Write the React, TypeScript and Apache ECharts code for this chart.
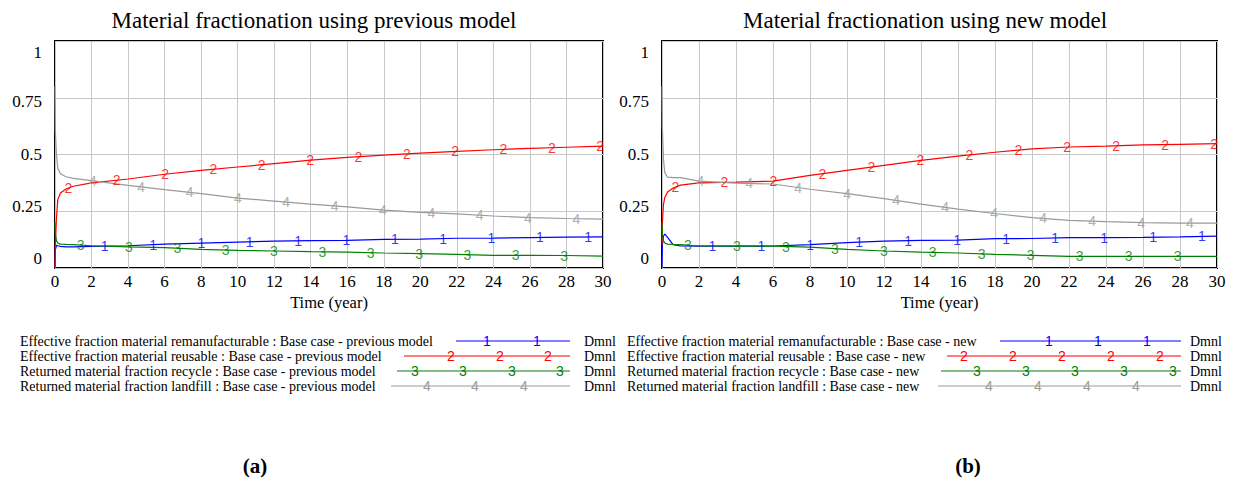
import React, { useEffect, useRef } from "react";
import * as echarts from "echarts";

// ---------- data ----------
const TIME = [0, 0.02, 0.08, 0.15, 0.3, 0.6, 1, 2, 4, 6, 8, 10, 12, 14, 16, 18, 20, 22, 24, 26, 28, 30];

const PREV_REMANUFACTURABLE = [0, 0.08, 0.1, 0.098, 0.095, 0.093, 0.093, 0.095, 0.098, 0.105, 0.11, 0.114, 0.118, 0.121, 0.122, 0.126, 0.127, 0.131, 0.132, 0.134, 0.136, 0.137];
const PREV_REUSABLE = [0, 0.1, 0.22, 0.3, 0.33, 0.348, 0.36, 0.375, 0.392, 0.413, 0.43, 0.445, 0.46, 0.475, 0.487, 0.497, 0.506, 0.514, 0.521, 0.527, 0.532, 0.537];
const PREV_RECYCLE = [0.2, 0.15, 0.12, 0.11, 0.105, 0.104, 0.103, 0.098, 0.093, 0.09, 0.082, 0.078, 0.075, 0.072, 0.07, 0.066, 0.063, 0.06, 0.056, 0.056, 0.055, 0.052];
const PREV_LANDFILL = [0.8, 0.6, 0.5, 0.44, 0.415, 0.402, 0.395, 0.385, 0.364, 0.345, 0.328, 0.308, 0.295, 0.281, 0.269, 0.255, 0.245, 0.238, 0.229, 0.222, 0.218, 0.215];

const NEW_REMANUFACTURABLE = [0, 0.1, 0.14, 0.15, 0.135, 0.103, 0.097, 0.096, 0.096, 0.097, 0.103, 0.112, 0.118, 0.122, 0.123, 0.129, 0.13, 0.134, 0.134, 0.135, 0.137, 0.14];
const NEW_REUSABLE = [0.1, 0.2, 0.28, 0.31, 0.335, 0.352, 0.365, 0.375, 0.378, 0.383, 0.408, 0.43, 0.452, 0.474, 0.493, 0.51, 0.525, 0.533, 0.537, 0.542, 0.545, 0.548];
const NEW_RECYCLE = [0.2, 0.15, 0.12, 0.11, 0.105, 0.104, 0.103, 0.097, 0.096, 0.096, 0.092, 0.082, 0.075, 0.07, 0.066, 0.06, 0.056, 0.051, 0.051, 0.051, 0.051, 0.051];
const NEW_LANDFILL = [0.8, 0.62, 0.48, 0.42, 0.4, 0.398, 0.398, 0.383, 0.374, 0.37, 0.347, 0.328, 0.306, 0.281, 0.259, 0.24, 0.222, 0.21, 0.204, 0.2, 0.198, 0.198];

const Y_TICK_LABELS = ["0", "0.25", "0.5", "0.75", "1"];
const MARK_LABELS = ["1", "2", "3", "4"];

const TITLES = ["Material fractionation using previous model", "Material fractionation using new model"];
const PREV_NAMES = [
  "Effective fraction material remanufacturable : Base case - previous model",
  "Effective fraction material reusable : Base case - previous model",
  "Returned material fraction recycle : Base case - previous model",
  "Returned material fraction landfill : Base case - previous model",
];
const NEW_NAMES = [
  "Effective fraction material remanufacturable : Base case - new",
  "Effective fraction material reusable : Base case - new",
  "Returned material fraction recycle : Base case - new",
  "Returned material fraction landfill : Base case - new",
];
const UNIT = "Dmnl";

// ---------- styles ----------
const SERIF = "'Liberation Serif', 'Times New Roman', Times, serif";
const SANS = "'Liberation Sans', Arial, sans-serif";
const COLORS = ["#0000ff", "#ff0000", "#008000", "#9a9a9a"];
const MARKER_START = [2.72, 0.73, 1.4, 2.07];
const MARKER_STEP = 2.647;

function interp(ts: number[], vs: number[], t: number): number {
  if (t <= ts[0]) return vs[0];
  for (let i = 1; i < ts.length; i++) {
    if (t <= ts[i]) {
      const f = (t - ts[i - 1]) / (ts[i] - ts[i - 1]);
      return vs[i - 1] + f * (vs[i] - vs[i - 1]);
    }
  }
  return vs[vs.length - 1];
}

function buildSeries(gi: number, sets: number[][], names: string[]) {
  const out: any[] = [];
  sets.forEach((vals, k) => {
    out.push({
      type: "line",
      name: names[k],
      xAxisIndex: gi,
      yAxisIndex: gi,
      data: TIME.map((t, i) => [t, vals[i]]),
      symbol: "none",
      showSymbol: false,
      lineStyle: { color: COLORS[k], width: 1.2 },
      itemStyle: { color: COLORS[k] },
      z: 3 + k,
    });
    const mt: number[] = [];
    for (let t = MARKER_START[k]; t <= 30.01; t += MARKER_STEP) mt.push(t);
    out.push({
      type: "scatter",
      xAxisIndex: gi,
      yAxisIndex: gi,
      data: mt.map((t) => [t, interp(TIME, vals, t)]),
      symbol: "circle",
      symbolSize: 1,
      itemStyle: { color: "rgba(0,0,0,0)" },
      silent: true,
      label: {
        show: true,
        position: "inside",
        formatter: MARK_LABELS[k],
        color: COLORS[k],
        fontFamily: SANS,
        fontSize: 14,
      },
      z: 10,
    });
  });
  return out;
}

const Y_RICH: any = {
  p0: { padding: [0, 0, 20, 0] },
  p1: { padding: [0, 0, 10, 0] },
  p2: {},
  p3: { padding: [8, 0, 0, 0] },
  p4: { padding: [22, 0, 0, 0] },
};
Object.keys(Y_RICH).forEach((k) => {
  Y_RICH[k] = { ...Y_RICH[k], fontFamily: SERIF, fontSize: 17, color: "#000" };
});

function legendGraphics(textX: number, names: string[], lineStarts: number[], lineEnd: number, marks: number[][], unitX: number) {
  const rowsY = [341, 356, 371, 386];
  const els: any[] = [];
  names.forEach((n, k) => {
    const y = rowsY[k];
    els.push({
      type: "text",
      x: textX,
      y,
      style: { text: n, fill: "#000", font: `14px ${SERIF}`, verticalAlign: "middle", align: "left" },
    });
    els.push({
      type: "line",
      shape: { x1: lineStarts[k], y1: y, x2: lineEnd, y2: y },
      style: { stroke: COLORS[k], lineWidth: 1.2 },
    });
    marks[k].forEach((mx) => {
      els.push({
        type: "text",
        x: mx,
        y,
        style: { text: MARK_LABELS[k], fill: COLORS[k], font: `14px ${SANS}`, verticalAlign: "middle", align: "center" },
      });
    });
    els.push({
      type: "text",
      x: unitX,
      y,
      style: { text: UNIT, fill: "#000", font: `14px ${SERIF}`, verticalAlign: "middle", align: "left" },
    });
  });
  return els;
}

function axisPair(gi: number) {
  return {
    x: {
      type: "value",
      gridIndex: gi,
      min: 0,
      max: 30,
      interval: 2,
      name: "Time (year)",
      nameLocation: "middle",
      nameGap: 26,
      nameTextStyle: { fontFamily: SERIF, fontSize: 16.5, color: "#000" },
      axisLine: { show: false },
      axisTick: { show: false },
      axisLabel: { fontFamily: SERIF, fontSize: 17, color: "#000", margin: 5 },
      splitLine: { show: true, lineStyle: { color: "#c8c8c8", width: 1 } },
    },
    y: {
      type: "value",
      gridIndex: gi,
      min: 0,
      max: 1,
      interval: 0.25,
      axisLine: { show: false },
      axisTick: { show: false },
      axisLabel: {
        margin: 13,
        formatter: (v: number) => {
          const i = Math.round(v / 0.25);
          return `{p${i}|${Y_TICK_LABELS[i]}}`;
        },
        rich: Y_RICH,
      },
      splitLine: { show: true, lineStyle: { color: "#c8c8c8", width: 1 } },
    },
  };
}

export default function App() {
  const ref = useRef<HTMLDivElement>(null);
  useEffect(() => {
    if (!ref.current) return;
    const chart = echarts.init(ref.current, undefined, { renderer: "svg" });
    const a0 = axisPair(0);
    const a1 = axisPair(1);
    const titleStyle = { fontFamily: SERIF, fontSize: 23, fontWeight: "normal", color: "#000" };
    chart.setOption({
      animation: false,
      backgroundColor: "#fff",
      title: [
        { text: TITLES[0], left: 309, top: 4, textAlign: "center", textStyle: titleStyle },
        { text: TITLES[1], left: 920, top: 4, textAlign: "center", textStyle: titleStyle },
      ],
      grid: [
        { left: 55, top: 41, width: 548, height: 227, show: true, borderColor: "#000", borderWidth: 2, backgroundColor: "rgba(0,0,0,0)" },
        { left: 662, top: 41, width: 555, height: 227, show: true, borderColor: "#000", borderWidth: 2, backgroundColor: "rgba(0,0,0,0)" },
      ],
      xAxis: [a0.x, a1.x],
      yAxis: [a0.y, a1.y],
      series: [
        ...buildSeries(0, [PREV_REMANUFACTURABLE, PREV_REUSABLE, PREV_RECYCLE, PREV_LANDFILL], PREV_NAMES),
        ...buildSeries(1, [NEW_REMANUFACTURABLE, NEW_REUSABLE, NEW_RECYCLE, NEW_LANDFILL], NEW_NAMES),
      ],
      graphic: [
        ...legendGraphics(20, PREV_NAMES, [456, 404, 397, 391], 570, [[487, 537], [451, 500, 548], [415, 463, 512, 560], [427, 475, 524]], 584),
        ...legendGraphics(627, NEW_NAMES, [1000, 947, 941, 938], 1181, [[1049, 1098, 1147], [964, 1013, 1062, 1111, 1160], [977, 1026, 1075, 1124, 1173], [989, 1038, 1087, 1136]], 1190),
        { type: "text", x: 255, y: 466, style: { text: "(a)", fill: "#000", font: `bold 21px ${SERIF}`, align: "center", verticalAlign: "middle" } },
        { type: "text", x: 968, y: 466, style: { text: "(b)", fill: "#000", font: `bold 21px ${SERIF}`, align: "center", verticalAlign: "middle" } },
      ],
    });
    return () => chart.dispose();
  }, []);
  return <div ref={ref} style={{ position: "fixed", left: 0, top: 0, width: 1235, height: 482 }} />;
}
